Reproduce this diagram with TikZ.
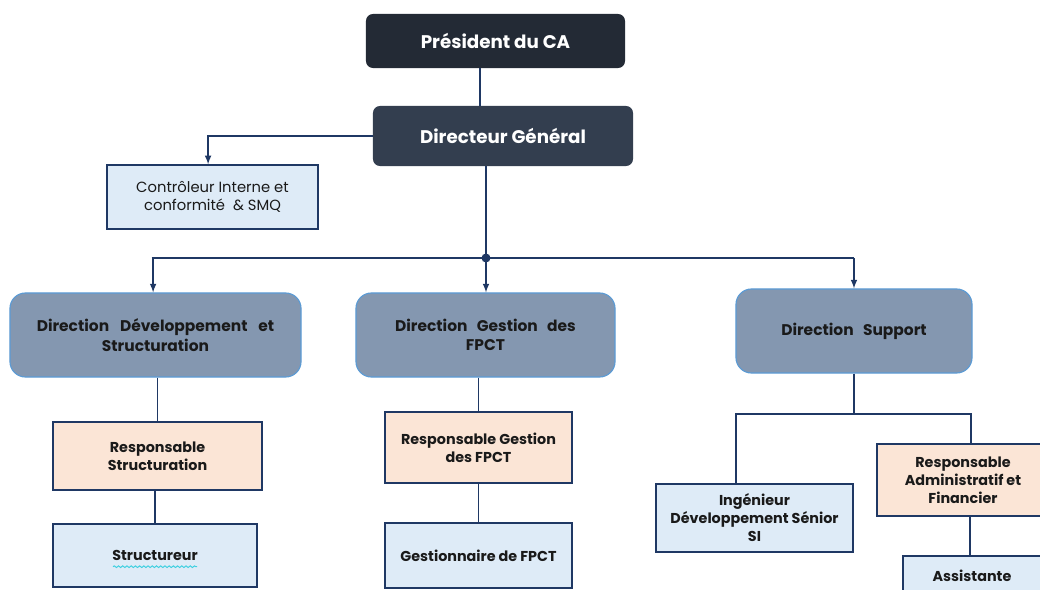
\documentclass[tikz,border=0pt]{standalone}
\usepackage{fontspec}
\setmainfont{Poppins}
\usepackage{xcolor}
\usepackage{tikz}
\usetikzlibrary{arrows}
\usetikzlibrary{decorations.pathmorphing}

\definecolor{navy}{HTML}{1F3864}
\definecolor{presfill}{HTML}{232A35}
\definecolor{dgfill}{HTML}{333E4F}
\definecolor{dirfill}{HTML}{8497B0}
\definecolor{dirline}{HTML}{5B9BD5}
\definecolor{peach}{HTML}{FBE5D6}
\definecolor{paleblue}{HTML}{DEEBF7}
\definecolor{inktext}{HTML}{1A1A1A}
\definecolor{spell}{HTML}{3FD0E0}

\tikzset{
  headbox/.style={rounded corners=5pt, text=white, align=center,
    font=\bfseries\fontsize{13}{15}\selectfont},
  dirbox/.style={rounded corners=11pt, fill=dirfill, draw=dirline, line width=0.8pt,
    text=inktext, align=center, font=\bfseries\fontsize{11}{14}\selectfont},
  chiefbox/.style={fill=peach, draw=navy, line width=1pt, text=inktext, align=center,
    font=\bfseries\fontsize{10.2}{12.8}\selectfont},
  staffbox/.style={fill=paleblue, draw=navy, line width=1pt, text=inktext, align=center,
    font=\bfseries\fontsize{10.2}{12.8}\selectfont},
  link/.style={draw=navy, line width=1.1pt},
}

\begin{document}
\begin{tikzpicture}[x=0.025cm,y=-0.025cm]
    \clip (0,0) rectangle (1040,590);

    % top of the chart
    \node[headbox, fill=presfill, minimum width=6.475cm, minimum height=1.35cm] (pres) at (495.5,41) {Président du CA};
    \node[headbox, fill=dgfill, minimum width=6.5cm, minimum height=1.5cm] (dg) at (503,136) {Directeur Général};
    \node[staffbox, font=\fontsize{10.5}{12.8}\selectfont, minimum width=5.275cm, minimum height=1.6cm] (ctrl) at (212.5,197) {Contrôleur Interne et\\conformité\ \ \& SMQ};

    % directions
    \node[dirbox, minimum width=7.275cm, minimum height=2.1cm] (ddev) at (155.5,335) {Direction\hspace{0.7em}Développement\hspace{0.7em}et\\Structuration};
    \node[dirbox, minimum width=6.475cm, minimum height=2.1cm] (dgest) at (485.5,335) {Direction\hspace{0.6em}Gestion\hspace{0.6em}des\\FPCT};
    \node[dirbox, minimum width=5.9cm, minimum height=2.1cm] (dsup) at (854,331) {Direction\hspace{0.6em}Support};

    % services
    \node[chiefbox, minimum width=5.225cm, minimum height=1.7cm] (rstruct) at (157.5,456) {Responsable\\Structuration};
    \node[staffbox, minimum width=5.1cm, minimum height=1.575cm] (structr) at (155,555.5) {Structureur};
    \node[chiefbox, minimum width=4.675cm, minimum height=1.775cm] (rgest) at (478.5,447.5) {Responsable Gestion\\des FPCT};
    \node[staffbox, minimum width=4.675cm, minimum height=1.625cm] (gestn) at (478.5,555.5) {Gestionnaire de FPCT};
    \node[staffbox, minimum width=4.925cm, minimum height=1.7cm] (ing) at (754.5,518) {Ingénieur\\Développement Sénior\\SI};
    \node[chiefbox, minimum width=4.3cm, minimum height=1.8cm] (radm) at (963,480) {Responsable\\Administratif et\\Financier};
    \node[staffbox, minimum width=3.45cm, minimum height=1cm] (assist) at (972,576) {Assistante};

    \draw[decorate, decoration={snake, amplitude=0.6pt, segment length=3pt}, spell, line width=0.7pt]
      ([xshift=-1.05cm, yshift=-0.28cm]structr.center) -- ([xshift=1.05cm, yshift=-0.28cm]structr.center);

    % connectors
    \coordinate (bus) at (486,258);
    \coordinate (fork) at (854,414);
    \draw[link] ([xshift=-0.39cm]pres.south) -- ([xshift=-0.39cm]pres.south |- dg.north);
    \draw[link, -latex] (dg.west) -| ([xshift=-0.11cm]ctrl.north);
    \draw[link] (bus |- dg.south) -- (bus);
    \fill[navy] (bus) circle (3.2pt);
    \draw[link] ([xshift=-0.1cm]ddev.north |- bus) -- (dsup.north |- bus);
    \draw[link, -latex] (bus) -- (bus |- dgest.north);
    \draw[link, -latex] ([xshift=-0.06cm]ddev.north |- bus) -- ([xshift=-0.06cm]ddev.north);
    \draw[link, -latex] (dsup.north |- bus) -- (dsup.north);
    \draw[link] (rstruct.north |- ddev.south) -- (rstruct.north);
    \draw[link] (structr.north |- rstruct.south) -- (structr.north);
    \draw[link] (rgest.north |- dgest.south) -- (rgest.north);
    \draw[link] (rgest.south) -- (gestn.north);
    \draw[link] (dsup.south) -- (fork);
    \draw[link] ([xshift=-0.46cm]ing.north) |- (fork) -| ([xshift=0.2cm]radm.north);
    \draw[link] ([xshift=0.18cm]radm.south) -- ([xshift=0.18cm]radm.south |- assist.north);
\end{tikzpicture}
\end{document}
